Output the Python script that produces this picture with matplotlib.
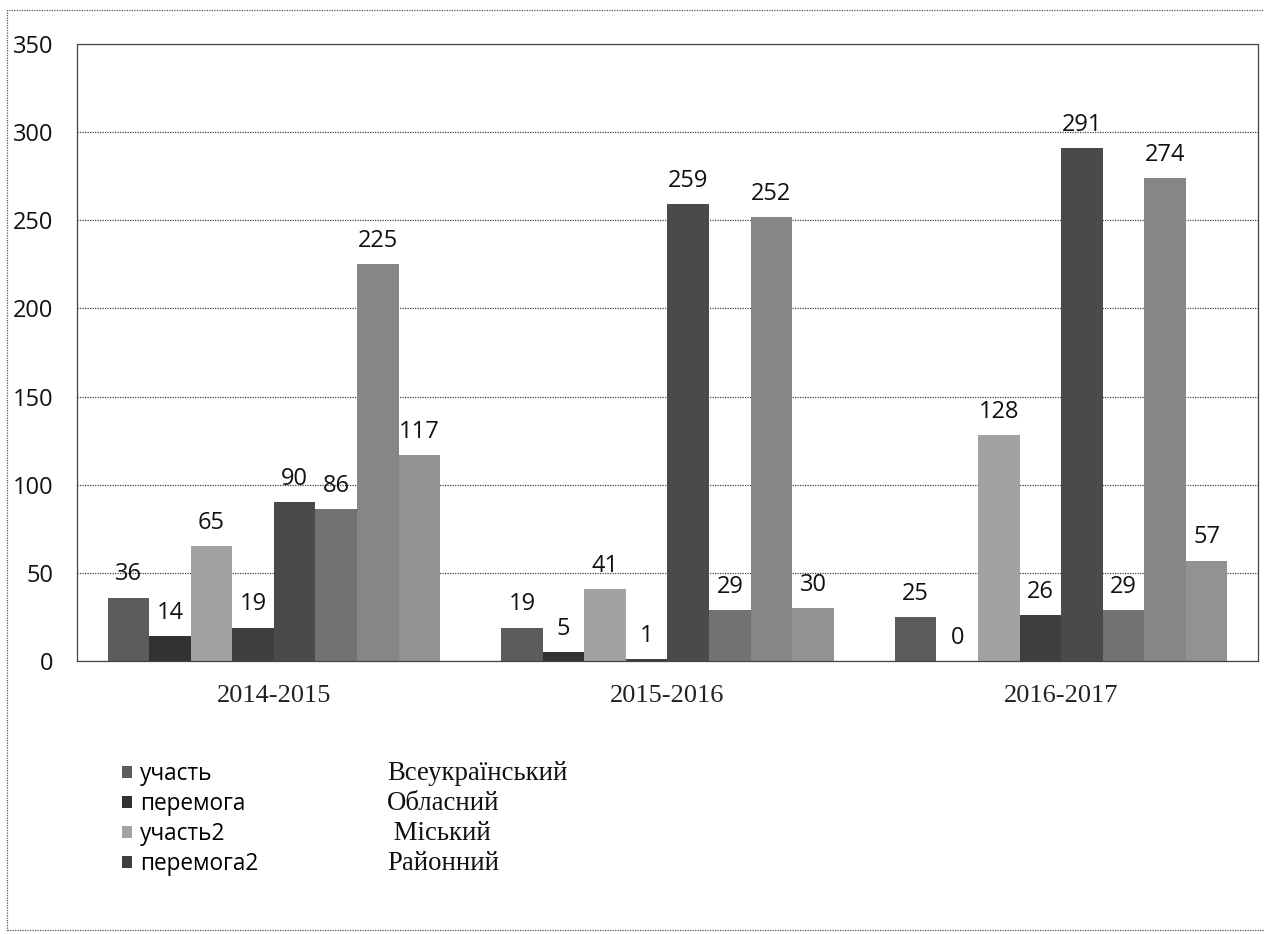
import matplotlib.pyplot as plt
import numpy as np
from matplotlib.patches import Rectangle

# years on the x axis
categories = ["2014-2015", "2015-2016", "2016-2017"]

# four levels x (participation, wins)
vseukr_uchast = [36, 19, 25]
vseukr_peremoga = [14, 5, 0]
oblasn_uchast = [65, 41, 128]
oblasn_peremoga = [19, 1, 26]
misk_uchast = [90, 259, 291]
misk_peremoga = [86, 29, 29]
rayon_uchast = [225, 252, 274]
rayon_peremoga = [117, 30, 57]

series = [vseukr_uchast, vseukr_peremoga, oblasn_uchast, oblasn_peremoga,
          misk_uchast, misk_peremoga, rayon_uchast, rayon_peremoga]
series_labels = ["участь", "перемога", "участь2", "перемога2", None, None, None, None]
level_names = ["Всеукраїнський", "Обласний", " Міський", "Районний"]

colors = ["#5c5c5c", "#323232", "#a2a2a2", "#3e3e3e",
          "#4a4a4a", "#727272", "#868686", "#929292"]

W, H = 1264, 934
fig = plt.figure(figsize=(W / 100, H / 100), dpi=100)
ax = fig.add_axes([77 / W, 1 - 661 / H, (1258 - 77) / W, (661 - 44) / H])

n = len(series)
width = 0.845 / n
x = np.arange(len(categories))
handles = []
for i, vals in enumerate(series):
    pos = x + (i - (n - 1) / 2) * width
    bars = ax.bar(pos, vals, width=width, color=colors[i], linewidth=0, zorder=2,
                  label=series_labels[i])
    if series_labels[i]:
        handles.append(bars)
    for b, v in zip(bars, vals):
        ax.annotate(str(v), (b.get_x() + b.get_width() / 2, v), xytext=(0, 8),
                    textcoords="offset points", ha="center", va="bottom",
                    fontsize=17, family="Open Sans", color="#111111")

ax.set_xlim(-0.5, len(categories) - 0.5)
ax.set_ylim(0, 350)
ax.set_yticks(np.arange(0, 351, 50))
ax.set_xticks(x)
ax.set_xticklabels(categories, family="Liberation Serif", fontsize=19, color="#222222")
for lab in ax.get_yticklabels():
    lab.set_family("Open Sans")
    lab.set_fontsize(17)
    lab.set_color("#111111")
ax.tick_params(axis="both", length=0)
ax.tick_params(axis="y", pad=17)
ax.tick_params(axis="x", pad=17)
ax.grid(axis="y", color="#444444", linewidth=0.9, linestyle=(0, (1, 1)), zorder=0)
for s in ax.spines.values():
    s.set_color("#444444")
    s.set_linewidth(0.9)
    s.set_linestyle((0, (1, 1)))

leg = fig.legend(handles=handles, labels=series_labels[:4], loc="upper left",
                 bbox_to_anchor=(122 / W, 1 - 762 / H), frameon=False,
                 handlelength=0.45, handleheight=0.45, handletextpad=0.35,
                 labelspacing=0.26, borderpad=0, borderaxespad=0,
                 prop={"family": "Open Sans", "size": 16.3})

row_y = [773, 803, 833, 863]
for name, yy in zip(level_names, row_y):
    fig.text(387 / W, 1 - yy / H, name, family="Liberation Serif", fontsize=19.3,
             va="center", ha="left", color="#111111")

# outer chart border
fig.patches.append(Rectangle((7 / W, 1 - 930 / H), 1.2, (930 - 10) / H,
                             transform=fig.transFigure, fill=False,
                             edgecolor="#555555", linewidth=0.9, linestyle=(0, (1, 1))))

fig.savefig("out.png", dpi=100)
